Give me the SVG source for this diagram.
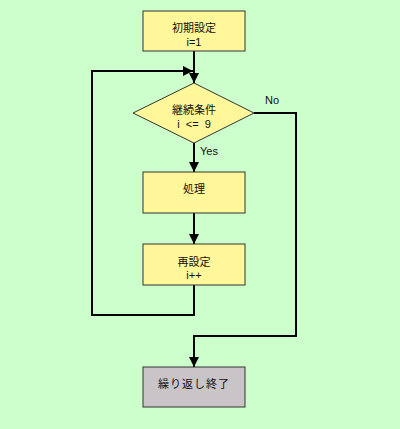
<svg xmlns="http://www.w3.org/2000/svg" width="400" height="429" viewBox="0 0 400 429">
<style>
.box{fill:#FFF799;stroke:#333;stroke-width:1}
.end{fill:#C8C4C8;stroke:#333;stroke-width:1}
.t{font-family:"Liberation Sans","Noto Sans CJK JP",sans-serif;font-size:11px;fill:#111;text-anchor:middle}
.lbl{font-family:"Liberation Sans",sans-serif;font-size:11px;fill:#111}
.c{fill:none;stroke:#000;stroke-width:2}
</style>
<defs>
<marker id="ah" viewBox="0 0 10 10" refX="10" refY="5" markerWidth="5" markerHeight="5" orient="auto" markerUnits="strokeWidth">
<path d="M0,0 L10,5 L0,10 z" fill="#000"/>
</marker>
</defs>
<rect width="400" height="429" fill="#CCFFCC"/>
<g id="connectors">
<path class="c" d="M194,51 V83" marker-end="url(#ah)"/>
<path class="c" d="M194,143 V172" marker-end="url(#ah)"/>
<path class="c" d="M194,213 V244" marker-end="url(#ah)"/>
<path class="c" d="M194,285 V315 H92 V71 H193" marker-end="url(#ah)"/>
<path class="c" d="M254,113 H296 V336 H194 V367" marker-end="url(#ah)"/>
<text class="lbl" x="265" y="104">No</text>
<text class="lbl" x="200" y="155">Yes</text>
</g>
<g id="init">
<rect class="box" x="143" y="11" width="102" height="40"/>
<text class="t" x="194" y="32">初期設定</text>
<text class="t" x="194" y="46">i=1</text>
</g>
<g id="cond">
<polygon class="box" points="194,83 254,113 194,143 133,113"/>
<text class="t" x="194" y="114">継続条件</text>
<text class="t" x="194" y="128" xml:space="preserve">i  &lt;=  9</text>
</g>
<g id="process">
<rect class="box" x="143" y="172" width="102" height="41"/>
<text class="t" x="194" y="193">処理</text>
</g>
<g id="reset">
<rect class="box" x="143" y="244" width="102" height="41"/>
<text class="t" x="194" y="266">再設定</text>
<text class="t" x="194" y="279">i++</text>
</g>
<g id="end">
<rect class="end" x="143" y="367" width="102" height="40"/>
<text class="t" x="194" y="388" letter-spacing="1">繰り返し終了</text>
</g>
</svg>
